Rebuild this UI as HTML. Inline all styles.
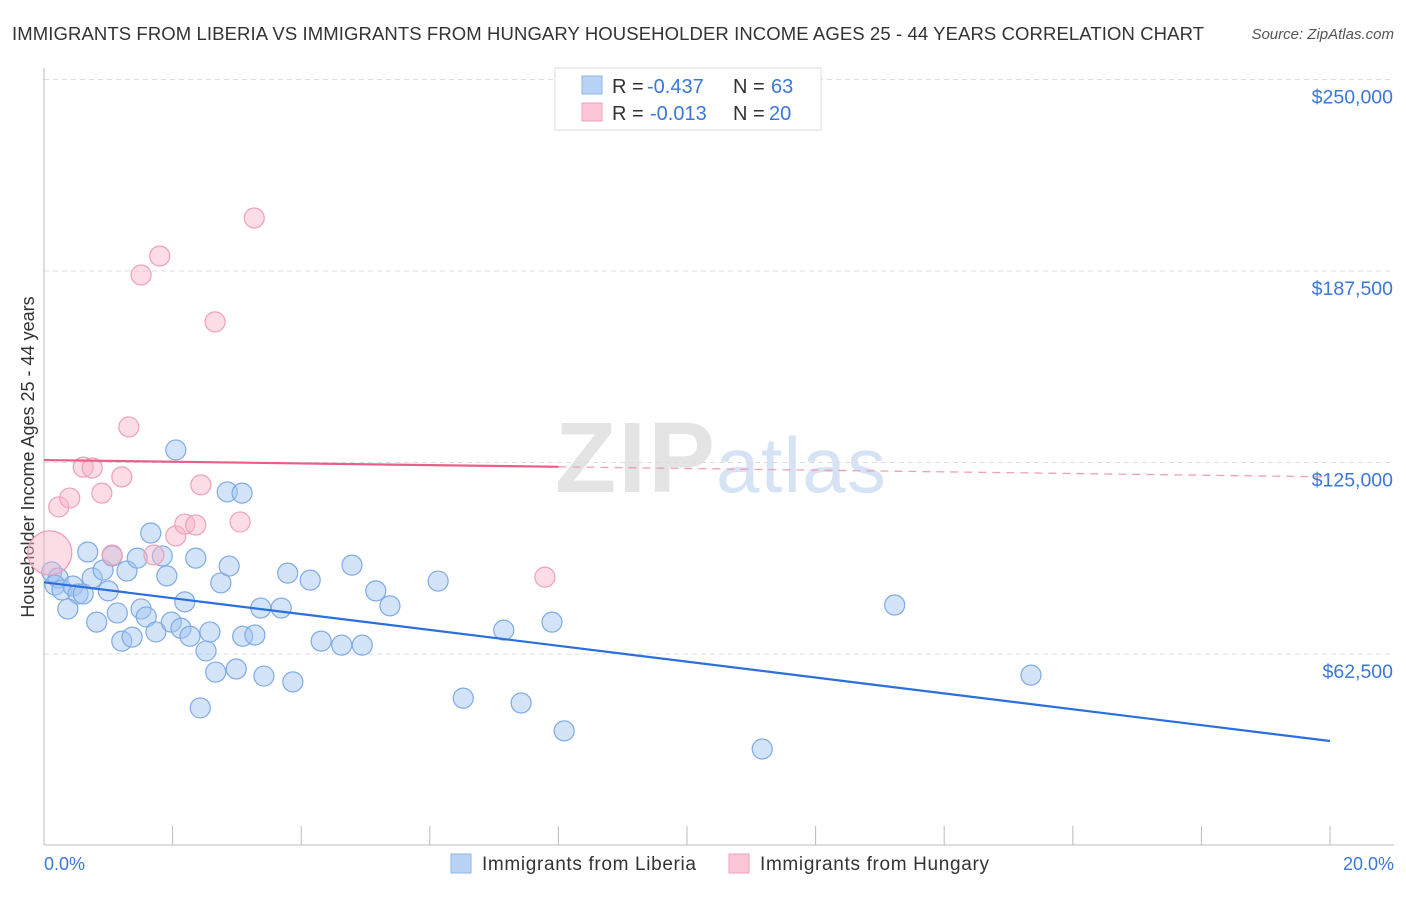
<!DOCTYPE html>
<html><head><meta charset="utf-8"><style>
body{margin:0;background:#fff;font-family:"Liberation Sans",sans-serif;}
svg text{font-family:"Liberation Sans",sans-serif;}
</style></head><body>
<svg id="c" width="1406" height="892" xmlns="http://www.w3.org/2000/svg">
<text x="12" y="40" font-size="18.5" fill="#333" textLength="1192">IMMIGRANTS FROM LIBERIA VS IMMIGRANTS FROM HUNGARY HOUSEHOLDER INCOME AGES 25 - 44 YEARS CORRELATION CHART</text>
<text x="1394" y="39" font-size="15" font-style="italic" fill="#555" text-anchor="end">Source: ZipAtlas.com</text>
<text x="555" y="492" font-size="100" font-family="Liberation Serif" fill="#e4e4e4" font-weight="bold" textLength="160">ZIP</text>
<text x="716" y="492" font-size="78" fill="#d6e3f5" textLength="170">atlas</text>
<text transform="translate(34,457) rotate(-90)" font-size="18" fill="#333" text-anchor="middle">Householder Income Ages 25 - 44 years</text>
<g id="grid"></g><g id="marks"></g>
<g>
<rect x="555" y="68" width="266" height="62" fill="#fff" stroke="#ddd"/>
<rect x="582" y="76" width="20" height="18" fill="#b8d3f5" stroke="#8fb4e8"/>
<rect x="582" y="103" width="20" height="18" fill="#fbc7d6" stroke="#f0a0b8"/>
<text x="612" y="93" font-size="20" fill="#333">R =</text>
<text x="647" y="93" font-size="20" fill="#3a78d8">-0.437</text>
<text x="733" y="93" font-size="20" fill="#333">N =</text>
<text x="771" y="93" font-size="20" fill="#3a78d8">63</text>
<text x="612" y="120" font-size="20" fill="#333">R =</text>
<text x="650" y="120" font-size="20" fill="#3a78d8">-0.013</text>
<text x="733" y="120" font-size="20" fill="#333">N =</text>
<text x="769" y="120" font-size="20" fill="#3a78d8">20</text>
</g>
<g>
<rect x="451" y="854" width="20" height="19" fill="#b8d3f5" stroke="#8fb4e8"/>
<text x="482" y="870" font-size="19" fill="#333" textLength="214">Immigrants from Liberia</text>
<rect x="729" y="854" width="20" height="19" fill="#fbc7d6" stroke="#f0a0b8"/>
<text x="760" y="870" font-size="19" fill="#333" textLength="229">Immigrants from Hungary</text>
</g>
<text x="44" y="870" font-size="18" fill="#3a78d8">0.0%</text>
<text x="1394" y="870" font-size="18" fill="#3a78d8" text-anchor="end">20.0%</text>
</svg>
<script>
const yTicks=[62.5,125,187.5,250];
const yTickLabels=["$62,500","$125,000","$187,500","$250,000"];
const xTicks=[0,2,4,6,8,10,12,14,16,18,20];
const liberiaX=[.12,.22,.17,.28,.45,.53,.61,.37,.68,.75,.82,.92,1.00,1.06,1.14,1.21,1.29,1.37,1.45,1.51,1.59,1.66,1.74,1.84,1.91,1.98,2.05,2.13,2.19,2.27,2.36,2.43,2.52,2.58,2.67,2.75,2.85,2.88,2.99,3.08,3.09,3.28,3.37,3.42,3.69,3.79,3.87,4.14,4.31,4.63,4.79,4.95,5.16,5.38,6.13,6.52,7.15,7.42,7.90,8.09,11.17,13.23,15.35];
const liberiaY=[89.3,87.3,85.0,83.4,84.7,82.1,82.1,77.2,95.8,87.3,72.9,89.9,83.1,94.5,75.9,66.7,89.6,68.0,93.8,77.2,74.6,102.0,69.7,94.5,88.0,72.9,129.1,70.9,79.5,68.3,93.8,44.9,63.5,69.7,56.6,85.7,115.4,91.2,57.6,115.0,68.3,68.7,77.5,55.3,77.5,88.9,53.4,86.6,66.7,65.4,91.5,65.4,83.1,78.2,86.3,48.1,70.3,46.5,72.9,37.4,31.5,78.5,55.6];
const hungaryX=[.09,.23,.40,.61,.75,.90,1.06,1.21,1.32,1.51,1.71,1.80,2.05,2.19,2.36,2.44,2.66,3.05,3.27,7.79];
const hungaryY=[95.5,110.5,113.4,123.5,123.2,115.0,94.8,120.3,136.6,186.2,94.8,192.4,101.0,104.9,104.6,117.7,170.9,105.6,204.8,87.6];
const hungarySize=[22,10,10,10,10,10,10,10,10,10,10,10,10,10,10,10,10,10,10,10];
const liberiaTrend=[85.9,34.1];
const hungaryTrend=[125.8,120.3];
const NS="http://www.w3.org/2000/svg";
const X=v=>44+v*64.3, Y=v=>845.5-v*3.064;
function mk(t,a,p){const e=document.createElementNS(NS,t);for(const k in a)e.setAttribute(k,a[k]);p.appendChild(e);return e;}
const g=document.getElementById('grid'),m=document.getElementById('marks');
yTicks.forEach((v,i)=>{
 const l=mk('line',{x1:44,x2:1394,y1:Y(v),y2:Y(v),stroke:'#ddd','stroke-dasharray':'5,4'},g);
 
 
 const t=mk('text',{x:1393,y:Y(v)+24,'font-size':19.5,fill:'#3a78d8','text-anchor':'end'},g);
 t.textContent=yTickLabels[i];
 
 
});
mk('line',{x1:44,x2:44,y1:68,y2:845,stroke:'#bbb'},g);
mk('line',{x1:44,x2:1394,y1:845,y2:845,stroke:'#bbb'},g);
xTicks.forEach(v=>{const l=mk('line',{x1:X(v),x2:X(v),y1:826,y2:845,stroke:'#bbb'},g);
 
 });
liberiaX.forEach((v,i)=>{const c=mk('circle',{cx:X(v),cy:Y(liberiaY[i]),r:10,fill:'rgba(160,196,240,0.45)',stroke:'#7eaae6','stroke-width':1.2},m);
 
 });
hungaryX.forEach((v,i)=>{const c=mk('circle',{cx:X(v),cy:Y(hungaryY[i]),r:hungarySize[i],fill:'rgba(248,180,200,0.45)',stroke:'#eea0b8','stroke-width':1.2},m);
 
 });
const bt=mk('line',{x1:X(0),y1:Y(liberiaTrend[0]),x2:X(20),y2:Y(liberiaTrend[1]),stroke:'#2a6fdb','stroke-width':2.2},m);


const hy=x=>hungaryTrend[0]+(hungaryTrend[1]-hungaryTrend[0])*x/20;
const ht=mk('line',{x1:X(0),y1:Y(hy(0)),x2:X(8),y2:Y(hy(8)),stroke:'#e8608a','stroke-width':2.2},m);


const hd=mk('line',{x1:X(8),y1:Y(hy(8)),x2:X(20),y2:Y(hy(20)),stroke:'#eea0b8','stroke-width':1.3,'stroke-dasharray':'8,6'},m);


</script>
</body></html>
